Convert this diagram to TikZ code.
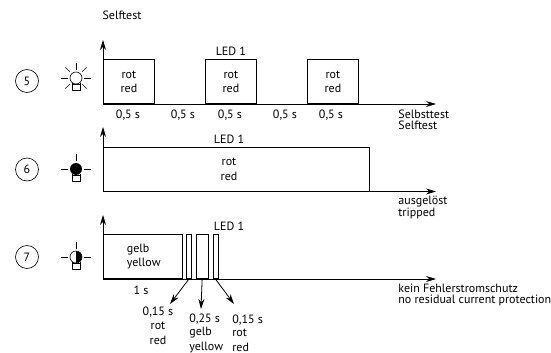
\documentclass[tikz,border=0pt]{standalone}
\usepackage{fontspec}
\setmainfont{PT Sans}
\usetikzlibrary{arrows.meta, positioning}

\begin{document}
\begin{tikzpicture}[x=1pt,y=-1pt,>={Stealth[length=10pt,width=6pt]},line width=0.8pt,
  every node/.style={font=\fontsize{12}{14.5}\selectfont,inner sep=0pt},
  row label/.style={circle,draw,line width=0.6pt,minimum size=23pt},
  pulse/.style={draw,anchor=south west,align=center,line width=0.8pt},
  caption/.style={anchor=west,align=left,font=\fontsize{12}{11}\selectfont},
  rays/.pic={
    \foreach \a in {0,180,270} \draw[line width=0.6pt] (\a:8) -- (\a:15);
  },
  diagonals/.pic={
    \foreach \a in {45,135,225,315} \draw[line width=0.6pt] (\a:9) -- (\a:15);
  },
  bulb base/.pic={
    \draw[line width=0.6pt] (-4,5) -- (-4,12) -- (4,12) -- (4,5);
    \draw[line width=0.6pt] (-4,6) -- (4,6);
  }]
  \useasboundingbox (0,0) rectangle (551,353);

  % top heading
  \node (title) at (122,15) {Selftest};

  % LED 5
  \node[row label] (n5) at (27,81) {5};
  \coordinate (o5) at (103,104);
  \coordinate (y5) at (103,40);
  \coordinate (x5) at (436,104);
  \draw[->] (o5) -- (y5);
  \draw[->] (o5) -- (x5);
  \node[pulse,minimum width=51pt,minimum height=44pt] (p51) at (o5) {rot\\red};
  \node[pulse,minimum width=51pt,minimum height=44pt] (p52) at (205,104) {rot\\red};
  \node[pulse,minimum width=51pt,minimum height=44pt] (p53) at (307,104) {rot\\red};
  \node[above=3pt of p52] (led5) {LED 1};
  \node (t1) at (128,115) {0,5 s};
  \node (t2) at (183,115) {0,5 s};
  \node (t3) at (230,115) {0,5 s};
  \node (t4) at (285,115) {0,5 s};
  \node (t5) at (331,115) {0,5 s};
  \node[caption] (c5) at (398,119.5) {Selbsttest\\Selftest};
  \draw[line width=0.6pt] (76,78) circle (6);
  \pic at (76,78) {rays};
  \pic at (76,78) {diagonals};
  \pic at (76,78) {bulb base};

  % LED 6
  \node[row label] (n6) at (27,169.5) {6};
  \coordinate (o6) at (103,191.5);
  \coordinate (y6) at (103,127);
  \coordinate (x6) at (436,191.5);
  \draw[->] (o6) -- (y6);
  \draw[->] (o6) -- (x6);
  \node[pulse,minimum width=266pt,minimum height=44pt] (p61) at (o6) {};
  \node[align=center] (r6) at (229,169.5) {rot\\red};
  \node (led6) at (229,139) {LED 1};
  \node[caption] (c6) at (398,207.5) {ausgelöst\\tripped};
  \fill (76,169) circle (6);
  \pic at (76,169) {rays};
  \pic at (76,169) {bulb base};

  % LED 7
  \node[row label] (n7) at (27,257) {7};
  \coordinate (o7) at (103,279);
  \coordinate (y7) at (103,215);
  \coordinate (x7) at (436,279);
  \draw[->] (o7) -- (y7);
  \draw[->] (o7) -- (x7);
  \node[pulse,minimum width=79pt,minimum height=44pt,text width=32pt,align=left] (p71) at (o7) {gelb\\yellow};
  \node[pulse,minimum width=5pt,minimum height=44pt] (p72) at (186,279) {};
  \node[pulse,minimum width=11.5pt,minimum height=44pt] (p73) at (196,279) {};
  \node[pulse,minimum width=5pt,minimum height=44pt] (p74) at (212.5,279) {};
  \node (led7) at (229,226) {LED 1};
  \node (t6) at (141,290) {1 s};
  \node[align=center] (l1) at (158,325.5) {0,15 s\\rot\\red};
  \node[align=left,anchor=west] (l2) at (189,333.5) {0,25 s\\[-1.5pt]gelb\\yellow};
  \node[align=left,anchor=west] (l3) at (232,333.5) {0,15 s\\[-1.5pt]rot\\red};
  \coordinate (a1) at (170,304);
  \coordinate (a2) at (201,309);
  \coordinate (a3) at (234,304);
  \draw[->] (p72.south) -- (a1);
  \draw[->] (p73.south) -- (a2);
  \draw[->] (p74.south) -- (a3);
  \node[caption] (c7) at (398,295) {kein Fehlerstromschutz\\no residual current protection};
  \draw[line width=0.6pt] (76,257) circle (6);
  \fill (76,263) arc (90:-90:6) -- cycle;
  \pic at (76,257) {rays};
  \pic at (76,257) {bulb base};
\end{tikzpicture}
\end{document}
